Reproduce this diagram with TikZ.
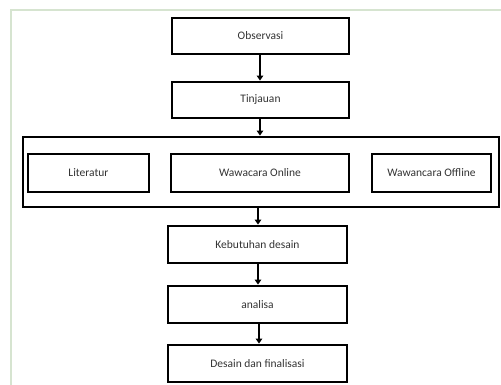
\documentclass[tikz,border=0pt]{standalone}
\usepackage{fontspec}
\setmainfont{Carlito}
\usetikzlibrary{arrows.meta}
\begin{document}
\begin{tikzpicture}[x=1pt,y=-1pt,
  box/.style={draw=black,line width=2.8pt,inner sep=0pt,font=\fontsize{11.5}{13}\selectfont,text=black!80},
  arr/.style={line width=1.8pt,-{Triangle[width=6.5pt,length=5pt]}}]
\useasboundingbox (0,0) rectangle (501,385);
\fill[white] (0,0) rectangle (501,385);
\draw[color={rgb,255:red,214;green,228;blue,208},line width=1.2pt] (11,385) -- (11,10) -- (501,10);
\node[box,minimum width=177pt,minimum height=36pt] (obs) at (260.5,36) {Observasi};
\node[box,minimum width=177pt,minimum height=36pt] (tin) at (260.5,100) {Tinjauan};
\node[box,minimum width=476pt,minimum height=70pt] (grp) at (261,172) {};
\node[box,minimum width=121pt,minimum height=38pt] (lit) at (88.5,173) {Literatur};
\node[box,minimum width=178pt,minimum height=38pt] (won) at (260,173) {Wawacara Online};
\node[box,minimum width=119pt,minimum height=38pt] (woff) at (431.5,173) {Wawancara Offline};
\node[box,minimum width=179pt,minimum height=37pt] (keb) at (257.5,244.5) {Kebutuhan desain};
\node[box,minimum width=179pt,minimum height=37pt] (ana) at (257.5,304.5) {analisa};
\node[box,minimum width=179pt,minimum height=37pt] (des) at (257.5,363.5) {Desain dan finalisasi};
\draw[arr] (obs.south -| 260,0) -- (tin.north -| 260,0);
\draw[arr] (tin.south -| 260,0) -- (grp.north -| 260,0);
\draw[arr] (grp.south -| 258,0) -- (keb.north -| 258,0);
\draw[arr] (keb.south -| 258,0) -- (ana.north -| 258,0);
\draw[arr] (ana.south -| 259,0) -- (des.north -| 259,0);
\end{tikzpicture}
\end{document}
